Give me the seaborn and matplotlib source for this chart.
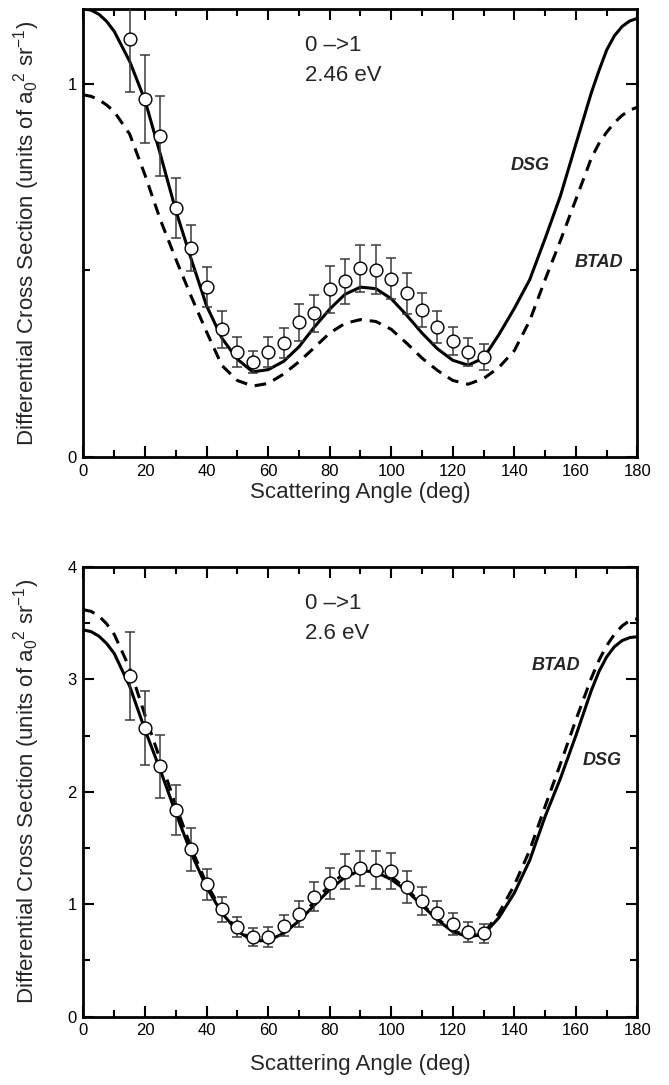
import matplotlib
matplotlib.use("Agg")
import matplotlib.pyplot as plt
import seaborn as sns
import numpy as np
import pandas as pd
from matplotlib.ticker import MultipleLocator

# ---------------- data ----------------
angles_curve = [0, 2.5, 5, 7.5, 10, 15, 20, 25, 30, 35, 40, 45, 50, 55, 60, 65,
                70, 75, 80, 85, 90, 95, 100, 105, 110, 115, 120, 125, 130, 135,
                140, 145, 150, 155, 160, 165, 167.5, 170, 172.5, 175, 177.5, 180]

dsg_246 = [1.20, 1.197, 1.186, 1.167, 1.14, 1.06, 0.955, 0.81, 0.66, 0.53,
           0.405, 0.318, 0.262, 0.228, 0.234, 0.256, 0.295, 0.348, 0.396, 0.436,
           0.455, 0.451, 0.424, 0.38, 0.332, 0.29, 0.259, 0.246, 0.265, 0.328,
           0.398, 0.475, 0.585, 0.70, 0.838, 0.975, 1.035, 1.09, 1.128, 1.153,
           1.168, 1.175]
btad_246 = [0.97, 0.966, 0.957, 0.943, 0.925, 0.865, 0.755, 0.635, 0.53, 0.43,
            0.335, 0.245, 0.205, 0.19, 0.197, 0.222, 0.255, 0.293, 0.332, 0.358,
            0.368, 0.363, 0.342, 0.305, 0.265, 0.232, 0.205, 0.195, 0.21, 0.24,
            0.285, 0.365, 0.475, 0.58, 0.69, 0.80, 0.84, 0.87, 0.895, 0.915,
            0.929, 0.937]

dsg_26 = [3.44, 3.425, 3.385, 3.32, 3.23, 2.94, 2.55, 2.19, 1.81, 1.455,
          1.15, 0.92, 0.76, 0.675, 0.675, 0.74, 0.85, 0.99, 1.13, 1.24,
          1.30, 1.285, 1.22, 1.12, 0.99, 0.86, 0.755, 0.71, 0.73, 0.88,
          1.10, 1.39, 1.78, 2.12, 2.50, 2.90, 3.07, 3.20, 3.29, 3.345,
          3.372, 3.38]
btad_26 = [3.62, 3.605, 3.565, 3.495, 3.40, 3.10, 2.68, 2.28, 1.88, 1.50,
           1.18, 0.94, 0.77, 0.685, 0.69, 0.76, 0.875, 1.02, 1.17, 1.28,
           1.335, 1.32, 1.245, 1.135, 1.0, 0.87, 0.765, 0.715, 0.735, 0.92,
           1.17, 1.48, 1.87, 2.25, 2.64, 3.01, 3.17, 3.30, 3.40, 3.475,
           3.525, 3.54]

angles_exp = list(range(15, 131, 5))
exp_246 = [1.119, 0.959, 0.861, 0.667, 0.559, 0.455, 0.342, 0.281, 0.254, 0.281,
           0.305, 0.361, 0.385, 0.449, 0.471, 0.505, 0.502, 0.478, 0.438, 0.393,
           0.348, 0.310, 0.281, 0.267]
err_246 = [0.142, 0.118, 0.107, 0.081, 0.062, 0.053, 0.05, 0.04, 0.03, 0.04,
           0.04, 0.05, 0.05, 0.062, 0.06, 0.062, 0.065, 0.056, 0.054, 0.045,
           0.043, 0.038, 0.037, 0.035]
exp_26 = [3.032, 2.564, 2.229, 1.837, 1.487, 1.176, 0.954, 0.799, 0.71, 0.71,
          0.808, 0.912, 1.066, 1.185, 1.288, 1.318, 1.303, 1.292, 1.149, 1.03,
          0.918, 0.823, 0.754, 0.74]
err_26 = [0.39, 0.33, 0.28, 0.22, 0.19, 0.14, 0.11, 0.09, 0.08, 0.09,
          0.095, 0.115, 0.128, 0.14, 0.154, 0.157, 0.166, 0.16, 0.143, 0.125,
          0.107, 0.095, 0.09, 0.083]

# ---------------- style ----------------
sns.set_theme(style="ticks")
plt.rcParams['font.family'] = ['Liberation Sans', 'DejaVu Sans']
plt.rcParams['mathtext.fontset'] = 'custom'
plt.rcParams['mathtext.rm'] = 'Liberation Sans'
plt.rcParams['mathtext.it'] = 'Liberation Sans:italic'

fig = plt.figure(figsize=(6.69, 10.85), dpi=100)
ax1 = fig.add_axes([0.1248, 0.5788, 0.828, 0.4129])
ax2 = fig.add_axes([0.1248, 0.0631, 0.828, 0.4143])

ylab = r'Differential Cross Section (units of a$_0$$^2$ sr$^{-1}$)'


def panel(ax, dsg, btad, exp, err, ymax, energy, dsg_pos, btad_pos, xpad):
    df = pd.DataFrame({'angle': angles_curve, 'DSG': dsg, 'BTAD': btad})
    sns.lineplot(data=df, x='angle', y='DSG', ax=ax, color='black', lw=2.2,
                 zorder=2)
    sns.lineplot(data=df, x='angle', y='BTAD', ax=ax, color='black', lw=2.2,
                 dashes=(3.8, 2.6), zorder=2)
    ax.errorbar(angles_exp, exp, yerr=err, fmt='none', ecolor='#3a3a3a',
                elinewidth=1.1, capsize=3.5, capthick=1.1, zorder=3)
    ax.plot(angles_exp, exp, 'o', ms=9.2, mfc='white', mec='black', mew=1.0,
            zorder=4, ls='none')
    ax.set_xlim(0, 180)
    ax.set_ylim(0, ymax)
    ax.xaxis.set_major_locator(MultipleLocator(20))
    ax.xaxis.set_minor_locator(MultipleLocator(10))
    ax.yaxis.set_major_locator(MultipleLocator(1))
    ax.yaxis.set_minor_locator(MultipleLocator(0.5))
    ax.tick_params(which='both', direction='in', top=True, right=True,
                   width=1.5, labelsize=12, colors='black')
    ax.tick_params(which='major', length=8, pad=5)
    ax.tick_params(which='minor', length=5)
    for s in ax.spines.values():
        s.set_linewidth(2.0)
        s.set_color('black')
    ax.set_xlabel('Scattering Angle (deg)', fontsize=16, labelpad=xpad)
    ax.set_ylabel(ylab, fontsize=16, labelpad=18)
    ax.text(0.40, 0.942, '0 \u2013>1', transform=ax.transAxes, fontsize=16,
            va='top', ha='left')
    ax.text(0.40, 0.875, energy, transform=ax.transAxes, fontsize=16,
            va='top', ha='left')
    ax.text(dsg_pos[0], dsg_pos[1], 'DSG', fontsize=13, style='italic',
            weight='bold', ha='center', va='center')
    ax.text(btad_pos[0], btad_pos[1], 'BTAD', fontsize=13, style='italic',
            weight='bold', ha='center', va='center')


panel(ax1, dsg_246, btad_246, exp_246, err_246, 1.2, '2.46 eV',
      (145, 0.78), (167.5, 0.52), 2)
panel(ax2, dsg_26, btad_26, exp_26, err_26, 4.0, '2.6 eV',
      (168.5, 2.28), (153.5, 3.12), 11)

fig.savefig('out.png', dpi=100)
